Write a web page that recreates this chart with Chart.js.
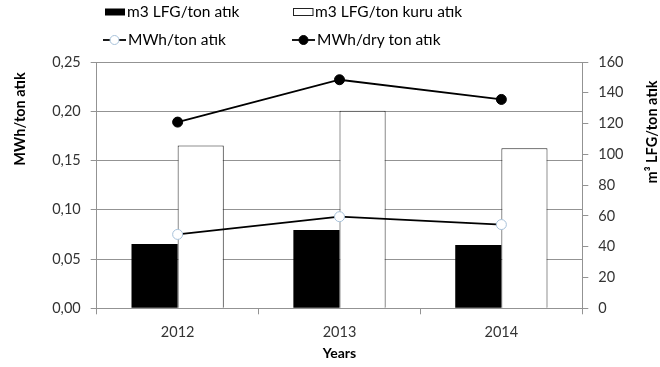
<!DOCTYPE html>
<html>
<head>
<meta charset="utf-8">
<script src="https://cdn.jsdelivr.net/npm/chart.js@4/dist/chart.umd.min.js"></script>
<style>
  html, body { margin: 0; padding: 0; background: #fff; }
  #wrap { width: 660px; height: 367px; position: relative; }
</style>
</head>
<body>
<div id="wrap"><canvas id="c" width="660" height="367"></canvas></div>
<script>
// Landfill gas and electricity yield per ton of waste, 2012–2014
const years = ['2012', '2013', '2014'];
const lfgPerTon = [41.7, 50.8, 41.1];          // m3 LFG / ton waste
const lfgPerDryTon = [105.8, 128.3, 103.9];    // m3 LFG / ton dry waste
const mwhPerTon = [0.075, 0.093, 0.085];       // MWh / ton waste
const mwhPerDryTon = [0.189, 0.232, 0.212];    // MWh / dry ton waste
const leftTickLabels = ['0,00', '0,05', '0,10', '0,15', '0,20', '0,25'];
const rightTickLabels = ['0', '20', '40', '60', '80', '100', '120', '140', '160'];

const FONT = 'Lato, "Noto Sans", sans-serif';
const GRID = '#939393';
const TEXT = '#333';

// Two-column legend above the plot plus the rotated y-axis titles
const decorations = {
  id: 'decorations',
  afterDraw(chart) {
    const ctx = chart.ctx;
    const ds = chart.data.datasets;
    ctx.save();
    ctx.font = '15.5px ' + FONT;
    ctx.fillStyle = '#000';
    ctx.textBaseline = 'middle';
    ctx.textAlign = 'left';

    const entries = [
      { d: ds[2], x: 105, y: 12, kind: 'bar' },
      { d: ds[3], x: 293, y: 12, kind: 'bar' },
      { d: ds[0], x: 103, y: 40, kind: 'line' },
      { d: ds[1], x: 292, y: 40, kind: 'line' }
    ];
    entries.forEach(e => {
      if (e.kind === 'bar') {
        ctx.fillStyle = e.d.backgroundColor;
        ctx.fillRect(e.x, e.y - 3.5, 20, 7);
        if (e.d.borderWidth) {
          ctx.strokeStyle = e.d.borderColor;
          ctx.lineWidth = 1;
          ctx.strokeRect(e.x + 0.5, e.y - 3.5, 19.5, 7);
        }
        ctx.fillStyle = '#000';
        ctx.fillText(e.d.label, e.x + 22, e.y);
      } else {
        ctx.strokeStyle = '#000';
        ctx.lineWidth = 1.8;
        ctx.beginPath();
        ctx.moveTo(e.x, e.y);
        ctx.lineTo(e.x + 23, e.y);
        ctx.stroke();
        ctx.beginPath();
        ctx.arc(e.x + 11.5, e.y, 4.5, 0, Math.PI * 2);
        ctx.fillStyle = e.d.pointBackgroundColor;
        ctx.fill();
        ctx.lineWidth = 1;
        ctx.strokeStyle = e.d.pointBorderColor;
        ctx.stroke();
        ctx.fillStyle = '#000';
        ctx.fillText(e.d.label, e.x + 25, e.y);
      }
    });

    ctx.font = 'bold 14.5px ' + FONT;
    ctx.fillStyle = '#000';
    ctx.textAlign = 'center';
    ctx.translate(20, 119);
    ctx.rotate(-Math.PI / 2);
    ctx.fillText('MWh/ton atık', 0, 0);
    ctx.setTransform(1, 0, 0, 1, 0, 0);
    ctx.translate(652, 132);
    ctx.rotate(-Math.PI / 2);
    ctx.fillText('m³ LFG/ton atık', 0, 0);
    ctx.restore();
  }
};

new Chart(document.getElementById('c'), {
  type: 'bar',
  data: {
    labels: years,
    datasets: [
      {
        type: 'line', label: 'MWh/ton atık', data: mwhPerTon, yAxisID: 'y',
        borderColor: '#000', borderWidth: 1.8, tension: 0,
        pointRadius: 5, pointBackgroundColor: '#fff', pointBorderColor: '#a8c2da',
        pointBorderWidth: 1, order: 0
      },
      {
        type: 'line', label: 'MWh/dry ton atık', data: mwhPerDryTon, yAxisID: 'y',
        borderColor: '#000', borderWidth: 1.8, tension: 0,
        pointRadius: 5, pointBackgroundColor: '#000', pointBorderColor: '#000',
        pointBorderWidth: 1, order: 0
      },
      {
        label: 'm3 LFG/ton atık', data: lfgPerTon, yAxisID: 'y1',
        backgroundColor: '#000', borderWidth: 0, order: 1,
        barPercentage: 1, categoryPercentage: 0.57
      },
      {
        label: 'm3 LFG/ton kuru atık', data: lfgPerDryTon, yAxisID: 'y1',
        backgroundColor: '#fff', borderColor: '#222', borderWidth: 1, order: 1,
        barPercentage: 1, categoryPercentage: 0.57
      }
    ]
  },
  options: {
    responsive: false,
    animation: false,
    devicePixelRatio: 1,
    layout: { padding: { top: 62, left: 0, right: 0, bottom: 0 } },
    plugins: { legend: { display: false }, tooltip: { enabled: false } },
    scales: {
      x: {
        grid: { drawOnChartArea: false, offset: true, color: GRID, tickLength: 6 },
        border: { color: GRID },
        ticks: { color: TEXT, font: { family: FONT, size: 14.5 }, padding: 9 },
        title: { display: true, text: 'Years', color: '#000', font: { family: FONT, size: 14, weight: 'bold' }, padding: { top: 0, bottom: 5 } },
        afterFit: s => { s.height = 58.7; }
      },
      y: {
        position: 'left', min: 0, max: 0.25,
        grid: { color: GRID, tickLength: 6 },
        border: { color: GRID },
        ticks: {
          stepSize: 0.05, color: TEXT, font: { family: FONT, size: 14.5 }, padding: 10,
          callback: (v, i) => leftTickLabels[i]
        },
        afterFit: s => { s.width = 96.7; }
      },
      y1: {
        position: 'right', min: 0, max: 160,
        grid: { drawOnChartArea: false, color: GRID, tickLength: 6 },
        border: { color: GRID },
        ticks: {
          stepSize: 20, color: TEXT, font: { family: FONT, size: 14.5 }, padding: 10,
          callback: (v, i) => rightTickLabels[i]
        },
        afterFit: s => { s.width = 77.7; }
      }
    }
  },
  plugins: [decorations]
});
</script>
</body>
</html>
